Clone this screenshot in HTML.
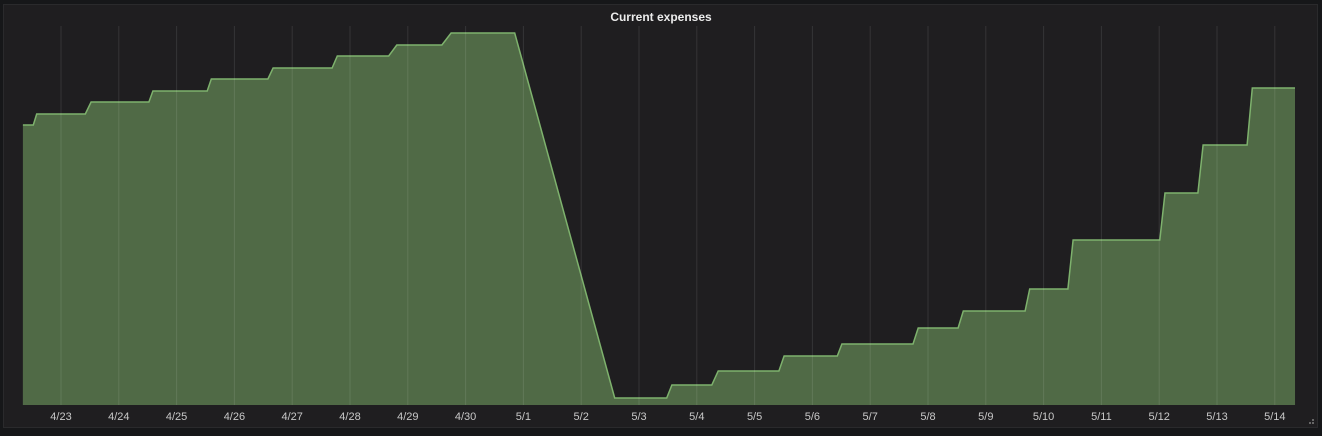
<!DOCTYPE html>
<html><head><meta charset="utf-8"><style>
html,body{margin:0;padding:0;background:#161719;width:1322px;height:436px;overflow:hidden;font-family:"Liberation Sans",sans-serif;}
</style></head><body>
<svg id="chart" width="1322" height="436" xmlns="http://www.w3.org/2000/svg">
<rect x="3.5" y="4.5" width="1314" height="423" fill="#1f1e20" stroke="#2a2a2c"/>
<text x="661" y="21" text-anchor="middle" fill="#ececec" font-size="12" font-weight="bold">Current expenses</text>
<g id="area"></g><g id="grid"></g><g id="xaxis"></g>
<g fill="#666"><rect x="1312" y="422" width="2" height="2"/><rect x="1309" y="422" width="2" height="2"/><rect x="1312" y="419" width="2" height="2"/></g>
</svg>
<script>
const tickLabels=["4/23","4/24","4/25","4/26","4/27","4/28","4/29","4/30","5/1","5/2","5/3","5/4","5/5","5/6","5/7","5/8","5/9","5/10","5/11","5/12","5/13","5/14"];
const times=[-0.66,-0.48,-0.42,0.42,0.52,1.52,1.59,2.53,2.60,3.58,3.67,4.69,4.78,5.67,5.81,6.59,6.75,7.85,9.58,10.48,10.57,11.26,11.37,12.42,12.51,13.43,13.51,14.74,14.83,15.52,15.61,16.68,16.76,17.42,17.51,19.01,19.10,19.67,19.76,20.52,20.61,21.35];
const values=[280,280,291,291,303,303,314,314,326,326,337,337,349,349,360,360,372,372,7,7,20,20,34,34,49,49,61,61,77,77,94,94,116,116,165,165,212,212,260,260,317,317];
const NS="http://www.w3.org/2000/svg";
const X0=61,DX=57.8,YB=405,YT=26,VMAX=379;
function xs(t){return X0+t*DX;}
function ys(v){return YB-(v/VMAX)*(YB-YT);}
const grid=document.getElementById('grid'),xa=document.getElementById('xaxis'),area=document.getElementById('area');
tickLabels.forEach((l,i)=>{
 const x=xs(i);
 const ln=document.createElementNS(NS,'line');
 
 
 ln.setAttribute('x1',x);ln.setAttribute('x2',x);ln.setAttribute('y1',YT);ln.setAttribute('y2',YB);
 ln.setAttribute('stroke','rgba(255,255,255,0.1)');ln.setAttribute('stroke-width','1');
 grid.appendChild(ln);
 const t=document.createElementNS(NS,'text');
 
 
 t.setAttribute('x',x);t.setAttribute('y',420);t.setAttribute('text-anchor','middle');
 t.setAttribute('fill','#c8c8c8');t.setAttribute('font-size','11');
 t.textContent=l;xa.appendChild(t);
});
let pts=times.map((t,i)=>xs(t).toFixed(1)+','+ys(values[i]).toFixed(1));
const fill=document.createElementNS(NS,'polygon');


fill.setAttribute('points',xs(times[0])+','+YB+' '+pts.join(' ')+' '+xs(times[times.length-1])+','+YB);
fill.setAttribute('fill','#506a46');
area.appendChild(fill);
const line=document.createElementNS(NS,'polyline');


line.setAttribute('points',pts.join(' '));
line.setAttribute('fill','none');line.setAttribute('stroke','#7eb26d');line.setAttribute('stroke-width','1.5');
area.appendChild(line);
</script>
</body></html>
